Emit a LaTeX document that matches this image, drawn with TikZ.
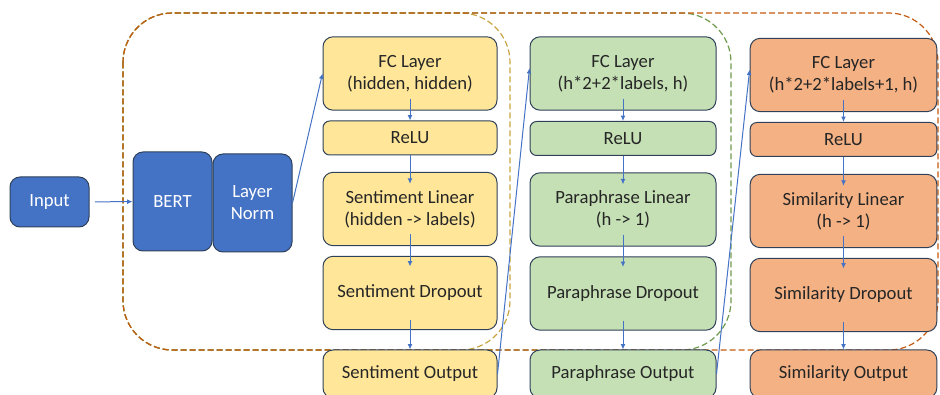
\documentclass[tikz,border=0pt]{standalone}
\usepackage{fontspec}
\setmainfont{Carlito}
\usepackage{tikz}
\usetikzlibrary{arrows.meta,positioning}
\definecolor{Blue}{HTML}{4472C4}
\definecolor{Edge}{HTML}{2F4159}
\definecolor{Ink}{HTML}{262626}
\definecolor{Sand}{HTML}{FFE699}
\definecolor{Sage}{HTML}{C5E0B4}
\definecolor{Peach}{HTML}{F4B183}
\definecolor{GoldLine}{HTML}{C9A443}
\definecolor{GreenLine}{HTML}{6E9A4E}
\definecolor{RustLine}{HTML}{C55A11}
\definecolor{Arrow}{HTML}{4472C4}
\tikzset{
  flowarrow/.style={-{Latex[length=4pt,width=3.6pt]}, line width=0.75pt, draw=Arrow},
  basebox/.style={rounded corners=7.5pt, draw=Edge, line width=0.75pt, align=center, inner sep=0pt, font=\fontsize{14}{16.5}\selectfont},
  bluebox/.style={basebox, fill=Blue, text=white, minimum width=59.25pt},
  sentbox/.style={basebox, fill=Sand, text=Ink, minimum width=130.5pt},
  parabox/.style={basebox, fill=Sage, text=Ink, minimum width=139.5pt},
  simbox/.style={basebox, fill=Peach, text=Ink, minimum width=140pt},
  tallbox/.style={minimum height=55pt},
  slimbox/.style={minimum height=25.5pt, rounded corners=5pt},
  outbox/.style={minimum height=36pt},
  groupframe/.style={dash pattern=on 4.5pt off 2.25pt, line width=0.9pt, rounded corners=37pt},
}

\begin{document}
\begin{tikzpicture}[x=0.75pt,y=-0.75pt]
\path[use as bounding box] (0,0) rectangle (940,395);

% dashed task groups
\draw[groupframe,draw=GoldLine] (123,13) rectangle (510,350);
\draw[groupframe,draw=GreenLine] (123,13) rectangle (731,350);
\draw[groupframe,draw=RustLine] (123,13) rectangle (938,350);

% encoder
\node[bluebox,minimum height=37.5pt] (input) at (49.5,202) {Input};
\node[bluebox,minimum height=74.25pt] (bert) at (172.5,201.5) {BERT};
\node[bluebox,minimum height=73.5pt] (lnorm) at (252.5,203) {Layer\\Norm};
\draw[flowarrow,shorten <=4pt] (input) -- (bert);

% sentiment head
\node[sentbox,tallbox] (sentfc) at (410,73.5) {FC Layer\\(hidden, hidden)};
\node[sentbox,slimbox] (sentrelu) at (410,138) {ReLU};
\node[sentbox,tallbox] (sentlin) at (410,209) {Sentiment Linear\\(hidden -> labels)};
\node[sentbox,tallbox] (sentdrop) at (410,293) {Sentiment Dropout};
\node[sentbox,outbox] (sentout) at (410,374) {Sentiment Output};

% paraphrase head
\node[parabox,tallbox] (parafc) at (623,73.5) {FC Layer\\(h*2+2*labels, h)};
\node[parabox,slimbox] (pararelu) at (623,138.5) {ReLU};
\node[parabox,tallbox] (paralin) at (623,209.5) {Paraphrase Linear\\(h -> 1)};
\node[parabox,tallbox] (paradrop) at (623,293.5) {Paraphrase Dropout};
\node[parabox,outbox] (paraout) at (623,374) {Paraphrase Output};

% similarity head
\node[simbox,tallbox] (simfc) at (843.5,75) {FC Layer\\(h*2+2*labels+1, h)};
\node[simbox,slimbox] (simrelu) at (843.5,139.5) {ReLU};
\node[simbox,tallbox] (simlin) at (843.5,211) {Similarity Linear\\(h -> 1)};
\node[simbox,tallbox] (simdrop) at (843.5,295) {Similarity Dropout};
\node[simbox,outbox] (simout) at (843.5,374) {Similarity Output};

% flow inside each head
\draw[flowarrow,shorten <=-9pt] (sentfc) -- (sentrelu);
\draw[flowarrow,shorten >=-9pt] (sentrelu) -- (sentlin);
\draw[flowarrow,shorten <=-9pt,shorten >=-8pt] (sentlin) -- (sentdrop);
\draw[flowarrow,shorten <=-7.5pt] (sentdrop) -- (sentout);
\draw[flowarrow,shorten <=-9pt] (parafc) -- (pararelu);
\draw[flowarrow,shorten >=-9pt] (pararelu) -- (paralin);
\draw[flowarrow,shorten <=-9pt,shorten >=-8pt] (paralin) -- (paradrop);
\draw[flowarrow,shorten <=-7.5pt] (paradrop) -- (paraout);
\draw[flowarrow,shorten <=-9pt] (simfc) -- (simrelu);
\draw[flowarrow,shorten >=-9pt] (simrelu) -- (simlin);
\draw[flowarrow,shorten <=-9pt,shorten >=-8pt] (simlin) -- (simdrop);
\draw[flowarrow,shorten <=-7.5pt] (simdrop) -- (simout);

% hand-off between heads
\draw[flowarrow] (lnorm.east) -- (sentfc.west);
\draw[flowarrow] (sentout.east) -- ([yshift=4pt]parafc.west);
\draw[flowarrow] (paraout.east) -- ([yshift=4pt]simfc.west);
\end{tikzpicture}
\end{document}
